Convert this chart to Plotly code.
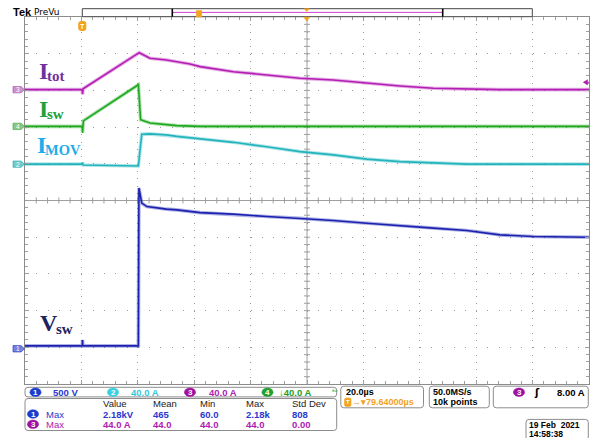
import plotly.graph_objects as go

# ---------------- canvas / plot geometry ----------------
W, H = 599, 438
ML, MR, MT, MB = 25, 10, 17, 54
PW = W - ML - MR
PH = H - MT - MB


def X(px):
    return (px - ML) / PW


def Y(py):
    return (H - MB - py) / PH


# ---------------- data ----------------
T_MIN, T_MAX = -20, 180          # µs, 20 µs/div
T_DIV = 20
Y_MIN, Y_MAX = -5, 5             # screen divisions

# channel settings: volts-or-amps per division and position (div)
CH1_SCALE, CH1_POS = 500, -3.96   # Vsw
CH2_SCALE, CH2_POS = 40, 0.99     # I_MOV
CH3_SCALE, CH3_POS = 40, 3.02     # I_tot
CH4_SCALE, CH4_POS = 40, 2.02     # I_sw
TRIG_LEVEL = 8.0                  # A on ch3

# I_tot (A)
t_itot = [-20, 0.3, 0.4, 0.6, 20.5, 24.3, 30.2, 33.8, 38.5, 42.1, 53.9, 65.7,
          77.5, 89.3, 101.2, 113.0, 124.8, 136.6, 148.4, 180]
i_tot = [0, 0, -5, 1, 40.3, 34.2, 32.4, 30.5, 28.0, 25.1, 19.6, 16.0,
         12.4, 10.6, 7.0, 4.0, 1.5, 0.4, 0, 0]

# I_sw (A)
t_isw = [-20, 0.3, 0.4, 0.7, 20.2, 21.0, 24.3, 30.2, 33.8, 42.1, 180]
i_sw = [0, 0, -7, 6, 45.4, 7.3, 3.7, 1.9, 0.8, 0, 0]

# I_MOV (A)
t_imov = [-20, 0.3, 0.4, 0.6, 20.2, 21.4, 24.3, 30.2, 33.8, 38.5, 42.1, 53.9,
          65.7, 77.5, 89.3, 101.2, 113.0, 124.8, 136.6, 180]
i_mov = [0, 0, 2, -1, -2, 32.7, 33.0, 31.9, 30.3, 28.7, 27.6, 23.8,
         18.9, 13.7, 10.1, 5.5, 2.8, 1.1, 0, 0]

# V_sw (V)
t_vsw = [-20, 0.3, 0.4, 0.5, 20.2, 20.4, 21.4, 23.2, 30.2, 33.8, 42.1, 53.9,
         65.7, 77.5, 89.3, 101.2, 113.0, 124.8, 136.6, 142.5, 148.4, 160.3, 180]
v_sw = [0, 0, 80, 0, 0, 2150, 1944, 1897, 1862, 1852, 1815, 1794,
        1761, 1739, 1707, 1671, 1634, 1603, 1571, 1543, 1512, 1489, 1480]

# readouts
ch_labels = ["500 V", "40.0 A", "40.0 A", "\u219340.0 A"]
meas_headers = ["Value", "Mean", "Min", "Max", "Std Dev"]
meas_row1 = ["2.18kV", "465", "60.0", "2.18k", "808"]
meas_row3 = ["44.0 A", "44.0", "44.0", "44.0", "0.00"]
timebase = "20.0\u00b5s"
delay = "\u2192\u25be79.64000\u00b5s"
sample_rate = "50.0MS/s"
record_len = "10k points"
trig_text = "8.00 A"
date_text = "19 Feb  2021"
time_text = "14:58:38"

# colours
C1, C2, C3, C4 = "#1c22b0", "#22b4bc", "#b41eb4", "#1ea81e"
TXT1, TXT2, TXT3, TXT4 = "#2a38d0", "#33c8d8", "#b020b0", "#22a022"
BADGE1, BADGE2, BADGE3, BADGE4 = "#1a3ecc", "#36d0e0", "#a010a0", "#1f9f2f"
ORANGE = "#f2a21e"
FRAME = "#8c8c8c"
UIFONT = "Liberation Sans"


def to_div(vals, scale, pos):
    return [v / scale + pos for v in vals]


fig = go.Figure()

for t, vals, sc, pos, col in [
    (t_vsw, v_sw, CH1_SCALE, CH1_POS, C1),
    (t_imov, i_mov, CH2_SCALE, CH2_POS, C2),
    (t_isw, i_sw, CH4_SCALE, CH4_POS, C4),
    (t_itot, i_tot, CH3_SCALE, CH3_POS, C3),
]:
    yd = to_div(vals, sc, pos)
    fig.add_trace(go.Scatter(x=t, y=yd, mode="lines",
                             line=dict(color=col, width=3.6), opacity=0.35,
                             hoverinfo="skip", showlegend=False))
    fig.add_trace(go.Scatter(x=t, y=yd, mode="lines",
                             line=dict(color=col, width=1.6),
                             hoverinfo="skip", showlegend=False))

shapes = []
ann = []

# centre lines of graticule
t_mid = (T_MIN + T_MAX) / 2
shapes.append(dict(type="line", xref="x", yref="paper", x0=t_mid, x1=t_mid, y0=0, y1=1,
                   line=dict(color="#a0a0a0", width=1), layer="below"))
shapes.append(dict(type="line", xref="paper", yref="y", x0=0, x1=1, y0=0, y1=0,
                   line=dict(color="#a0a0a0", width=1), layer="below"))
# minor tick marks on centre lines
px_per_us = PW / (T_MAX - T_MIN)
px_per_div = PH / (Y_MAX - Y_MIN)
hl = 3 / px_per_div
path = ""
n_minor_x = int((T_MAX - T_MIN) / (T_DIV / 5))
for k in range(1, n_minor_x):
    tt = T_MIN + k * T_DIV / 5
    path += f"M{tt},{-hl} L{tt},{hl} "
shapes.append(dict(type="path", xref="x", yref="y", path=path,
                   line=dict(color="#a0a0a0", width=1), layer="below"))
hw = 3 / px_per_us
path = ""
for k in range(1, 50):
    yy = Y_MIN + k * 0.2
    path += f"M{t_mid - hw},{yy:.3f} L{t_mid + hw},{yy:.3f} "
shapes.append(dict(type="path", xref="x", yref="y", path=path,
                   line=dict(color="#a0a0a0", width=1), layer="below"))


def rbox(x0, y0, x1, y1, r=3, color=FRAME, fill="rgba(0,0,0,0)", width=1):
    rx = r / PW
    ry = r / PH
    a, b, c, d = X(x0), X(x1), Y(y0), Y(y1)   # c top, d bottom (paper)
    p = (f"M{a + rx},{c} L{b - rx},{c} Q{b},{c} {b},{c - ry} "
         f"L{b},{d + ry} Q{b},{d} {b - rx},{d} L{a + rx},{d} "
         f"Q{a},{d} {a},{d + ry} L{a},{c - ry} Q{a},{c} {a + rx},{c} Z")
    shapes.append(dict(type="path", xref="paper", yref="paper", path=p,
                       line=dict(color=color, width=width), fillcolor=fill,
                       layer="above"))


def text(x, y, s, color="black", size=9.5, anchor="left", family=UIFONT, bold=False):
    if bold:
        s = f"<b>{s}</b>"
    ann.append(dict(x=X(x), y=Y(y), xref="paper", yref="paper", text=s,
                    showarrow=False, xanchor=anchor, yanchor="middle",
                    font=dict(family=family, size=size, color=color),
                    borderpad=0))


def badge(cx, cy, num, color):
    shapes.append(dict(type="circle", xref="paper", yref="paper",
                       x0=X(cx - 5.6), x1=X(cx + 5.6), y0=Y(cy + 4.3), y1=Y(cy - 4.3),
                       fillcolor=color, line=dict(color=color, width=0.5), layer="above"))
    text(cx, cy, str(num), color="white", size=8, anchor="center", bold=True)


# ---- header ----
text(12, 12.5, "Tek", size=11, bold=True, family="Liberation Sans")
text(32.5, 12, "PreVu", size=9, family="DejaVu Sans")
shapes.append(dict(type="rect", xref="paper", yref="paper", x0=X(82.3), x1=X(532.3),
                   y0=Y(16.7), y1=Y(8.7), line=dict(color="#444444", width=1),
                   fillcolor="white"))
shapes.append(dict(type="line", xref="paper", yref="paper", x0=X(172.3), x1=X(442.7),
                   y0=Y(12.4), y1=Y(12.4), line=dict(color="#d040d0", width=1)))
for xm in (172.3, 442.7):
    shapes.append(dict(type="line", xref="paper", yref="paper", x0=X(xm), x1=X(xm),
                       y0=Y(16.7), y1=Y(8.7), line=dict(color="black", width=1.6)))
shapes.append(dict(type="rect", xref="paper", yref="paper", x0=X(196.3), x1=X(201.7),
                   y0=Y(17), y1=Y(10.5), line=dict(color=ORANGE, width=0.5),
                   fillcolor=ORANGE))
# expansion point marks
shapes.append(dict(type="path", xref="paper", yref="paper",
                   path=f"M{X(304)},{Y(8.7)} L{X(309.4)},{Y(8.7)} L{X(306.7)},{Y(11.5)} Z",
                   fillcolor=ORANGE, line=dict(color=ORANGE, width=0.5)))
shapes.append(dict(type="path", xref="paper", yref="paper",
                   path=f"M{X(303.7)},{Y(17.3)} L{X(309.7)},{Y(17.3)} L{X(306.7)},{Y(21)} Z",
                   fillcolor=ORANGE, line=dict(color=ORANGE, width=0.5)))
# trigger position marker
rbox(78.8, 21.5, 85.8, 30.5, r=2, color=ORANGE, fill=ORANGE)
text(82.3, 26.2, "T", color="white", size=7, anchor="center", bold=True)

# ---- channel ground markers (left) ----
mh = 3.2 / px_per_div
for pos, num, fill, edge in [
    (CH3_POS, 3, "#cf8fcf", "#a050a0"),
    (CH4_POS, 4, "#86c886", "#3f9f3f"),
    (CH2_POS, 2, "#72cbcb", "#2fa5a5"),
    (CH1_POS - 0.08, 1, "#7484e0", "#2030c0"),
]:
    p = (f"M{X(13)},{pos + mh} L{X(21)},{pos + mh} L{X(24.6)},{pos} "
         f"L{X(21)},{pos - mh} L{X(13)},{pos - mh} Z")
    shapes.append(dict(type="path", xref="paper", yref="y", path=p,
                       fillcolor=fill, line=dict(color=edge, width=0.6)))
    ann.append(dict(x=X(18), y=pos, xref="paper", yref="y", text=str(num),
                    showarrow=False, xanchor="center", yanchor="middle",
                    font=dict(family=UIFONT, size=6.5, color="white"), borderpad=0))

# ---- trigger level marker (right) ----
ty = TRIG_LEVEL / CH3_SCALE + CH3_POS
th = 2.6 / px_per_div
shapes.append(dict(type="path", xref="paper", yref="y",
                   path=f"M{X(583.3)},{ty} L{X(587.5)},{ty + th} L{X(587.5)},{ty - th} Z",
                   fillcolor=C3, line=dict(color=C3, width=0.6)))
shapes.append(dict(type="line", xref="paper", yref="y", x0=X(586), x1=X(589), y0=ty, y1=ty,
                   line=dict(color=C3, width=1)))

# ---- waveform labels ----
SERIF = "Liberation Serif"
text(38.3, 71.2, "I", color="#7030a0", size=24, bold=True, family=SERIF)
text(46.2, 75.8, "tot", color="#7030a0", size=15, bold=True, family=SERIF)
text(38.3, 109.3, "I", color="#22a03e", size=24, bold=True, family=SERIF)
text(46.2, 113.6, "sw", color="#22a03e", size=15, bold=True, family=SERIF)
text(36.3, 145.2, "I", color="#1cadea", size=24, bold=True, family=SERIF)
text(44.2, 149.8, "MOV", color="#1cadea", size=14.5, bold=True, family=SERIF)
text(39.2, 323.4, "V", color="#1c2462", size=24, bold=True, family=SERIF)
text(54.6, 329.4, "sw", color="#1c2462", size=15, bold=True, family=SERIF)

# ---- bottom readouts ----
rbox(25, 387.3, 336.7, 396.9, r=3)
for cx, tx, num, bc, tc, lab in [
    (35.5, 52, 1, BADGE1, TXT1, ch_labels[0]),
    (113, 130, 2, BADGE2, TXT2, ch_labels[1]),
    (190, 207.5, 3, BADGE3, TXT3, ch_labels[2]),
    (267.5, 277.5, 4, BADGE4, TXT4, ch_labels[3]),
]:
    badge(cx, 392.2, num, bc)
    text(tx, 392.2, lab, color=tc, bold=True)
text(330.5, 391.6, "\u1d2e\u02b7", color=TXT4, size=6, family="DejaVu Sans")

rbox(25, 398.5, 336.7, 430.5, r=3)
col_x = [101.7, 151.7, 198.5, 245, 290.5]
for xx, h in zip(col_x, meas_headers):
    text(xx, 403.5, h, color="#222222")
badge(33, 414, 1, BADGE1)
text(44.5, 414, "Max", color=TXT1)
for xx, v in zip(col_x, meas_row1):
    text(xx, 414, v, color=TXT1, bold=True)
badge(33, 424.3, 3, BADGE3)
text(44.5, 424.3, "Max", color=TXT3)
for xx, v in zip(col_x, meas_row3):
    text(xx, 424.3, v, color=TXT3, bold=True)

rbox(340.8, 386.2, 423.5, 407.8, r=3)
text(344.5, 391.5, timebase, size=9, bold=True)
rbox(344.8, 398.2, 350.8, 406.2, r=1, color=ORANGE, fill=ORANGE)
text(347.8, 402.2, "T", color="white", size=6, anchor="center", bold=True)
text(351.3, 402.1, delay, color=ORANGE, size=9, bold=True)

rbox(429.3, 386.2, 489.3, 407.8, r=3)
text(432, 391.5, sample_rate, size=9, bold=True)
text(432, 401.9, record_len, size=9, bold=True)

rbox(493.3, 386.2, 588.3, 407.8, r=3)
badge(519, 392.2, 3, BADGE3)
text(532.5, 392.2, "\u0283", size=10, bold=True, family="DejaVu Sans")
text(585.6, 392.2, trig_text, anchor="right", bold=True)

rbox(526, 419.4, 588.3, 440, r=3)
text(528.2, 424.6, date_text, size=8.5, bold=True)
text(528.2, 434.1, time_text, size=8.5, bold=True)

axis_common = dict(showticklabels=False, zeroline=False, showline=True,
                   linecolor=FRAME, linewidth=1, mirror="ticks",
                   ticks="inside", ticklen=4, tickcolor="#a0a0a0", tickwidth=1,
                   showgrid=True, gridcolor="#9a9a9a", gridwidth=1, fixedrange=True)

fig.update_layout(
    width=W, height=H, autosize=False,
    margin=dict(l=ML, r=MR, t=MT, b=MB, pad=0),
    paper_bgcolor="white", plot_bgcolor="white",
    xaxis=dict(range=[T_MIN, T_MAX], tick0=T_MIN, dtick=T_DIV,
               griddash="1px,6.34px",
               minor=dict(dtick=T_DIV / 5, ticks="inside", ticklen=3,
                          tickcolor="#a0a0a0", showgrid=False),
               **axis_common),
    yaxis=dict(range=[Y_MIN, Y_MAX], tick0=Y_MIN, dtick=1,
               griddash="1px,10.28px",
               minor=dict(dtick=0.2, ticks="inside", ticklen=3,
                          tickcolor="#a0a0a0", showgrid=False),
               **axis_common),
    shapes=shapes,
    annotations=ann,
    showlegend=False,
)

fig.write_html("out.html", config=dict(displayModeBar=False, staticPlot=True),
               post_script="document.body.style.margin='0px';"
                           "document.body.style.overflow='hidden';")
